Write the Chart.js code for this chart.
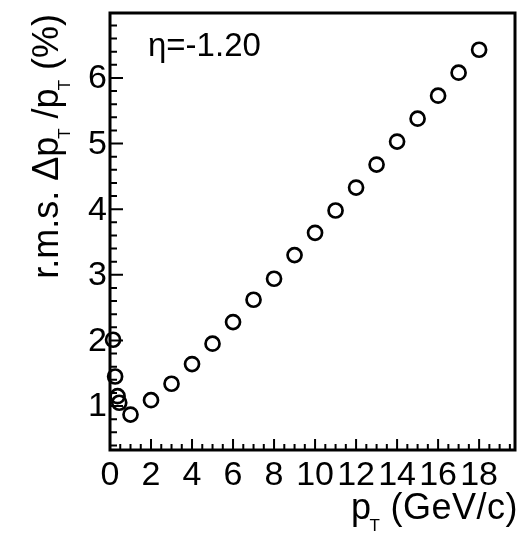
<!DOCTYPE html>
<html>
<head>
<meta charset="utf-8">
<script src="https://cdn.jsdelivr.net/npm/chart.js@4.4.1/dist/chart.umd.min.js"></script>
<style>
  html, body { margin: 0; padding: 0; background: #fff; }
  #wrap { width: 526px; height: 533px; }
</style>
</head>
<body>
<div id="wrap"><canvas id="c" width="526" height="533"></canvas></div>
<script>
  // values
  const ptValues = [0.15, 0.25, 0.37, 0.45, 1, 2, 3, 4, 5, 6, 7, 8, 9, 10, 11, 12, 13, 14, 15, 16, 17, 18];
  const rmsValues = [2.01, 1.45, 1.15, 1.05, 0.87, 1.09, 1.34, 1.64, 1.95, 2.28, 2.62, 2.94, 3.30, 3.64, 3.98, 4.33, 4.68, 5.03, 5.38, 5.73, 6.08, 6.43];
  const xTickLabels = [0, 2, 4, 6, 8, 10, 12, 14, 16, 18];
  const yTickLabels = [1, 2, 3, 4, 5, 6];
  const etaLabel = 'η=-1.20';

  const FONT = '"Liberation Sans", Arial, Helvetica, sans-serif';

  function drawRich(ctx, parts, x, y, size, subSize, spacing) {
    let cx = x;
    for (const p of parts) {
      ctx.font = `${p.sub ? subSize : size}px ${FONT}`;
      ctx.letterSpacing = p.sub ? '0px' : `${spacing}px`;
      const dy = p.sub ? 12 : 0;
      const dx = p.sub ? -2 : 0;
      ctx.fillText(p.t, cx + dx, y + dy);
      cx += ctx.measureText(p.t).width + dx;
    }
    ctx.letterSpacing = '0px';
    return cx - x;
  }

  function richWidth(ctx, parts, size, subSize, spacing) {
    let w = 0;
    for (const p of parts) {
      ctx.font = `${p.sub ? subSize : size}px ${FONT}`;
      ctx.letterSpacing = p.sub ? '0px' : `${spacing}px`;
      w += ctx.measureText(p.t).width + (p.sub ? -2 : 0);
    }
    ctx.letterSpacing = '0px';
    return w;
  }

  const rootFrame = {
    id: 'rootFrame',
    beforeDatasetsDraw(chart) {
      const { ctx, chartArea: a, scales } = chart;
      const xs = scales.x, ys = scales.y;
      ctx.save();
      ctx.strokeStyle = '#000';
      ctx.fillStyle = '#000';

      // minor/major ticks, drawn inward
      ctx.lineWidth = 2;
      ctx.beginPath();
      for (let v = 0.5; v < xs.max; v += 0.5) {
        const px = xs.getPixelForValue(v);
        const len = Math.abs(v % 2) < 1e-6 ? 11 : 6;
        ctx.moveTo(px, a.bottom);
        ctx.lineTo(px, a.bottom - len);
      }
      for (let i = 2; i * 0.2 < ys.max; i++) {
        const v = i * 0.2;
        if (v < ys.min) continue;
        const py = ys.getPixelForValue(v);
        const len = i % 5 === 0 ? 13 : 7;
        ctx.moveTo(a.left, py);
        ctx.lineTo(a.left + len, py);
      }
      ctx.stroke();

      // frame
      ctx.lineWidth = 3;
      ctx.strokeRect(a.left, a.top, a.right - a.left, a.bottom - a.top);

      // tick labels
      ctx.font = `34px ${FONT}`;
      ctx.textAlign = 'center';
      ctx.textBaseline = 'alphabetic';
      xTickLabels.forEach((v) => ctx.fillText(String(v), xs.getPixelForValue(v), 485));
      ctx.textAlign = 'right';
      ctx.textBaseline = 'middle';
      yTickLabels.forEach((v) => ctx.fillText(String(v), 107, ys.getPixelForValue(v) + 1));

      // x title
      ctx.textAlign = 'left';
      ctx.textBaseline = 'alphabetic';
      const xParts = [{ t: 'p' }, { t: 'T', sub: true }, { t: ' (GeV/c)' }];
      const xw = richWidth(ctx, xParts, 36, 17, 0.5);
      drawRich(ctx, xParts, 518 - xw, 519, 36, 17, 0.5);

      // y title, rotated
      const yParts = [{ t: 'r.m.s. Δp' }, { t: 'T', sub: true }, { t: ' /p' }, { t: 'T', sub: true }, { t: ' (%)' }];
      const yw = richWidth(ctx, yParts, 36, 17, 0);
      ctx.save();
      ctx.translate(58, 14 + yw);
      ctx.rotate(-Math.PI / 2);
      drawRich(ctx, yParts, 0, 0, 36, 17, 0);
      ctx.restore();

      // eta label
      ctx.font = `33px ${FONT}`;
      ctx.fillText(etaLabel, 148, 56);
      ctx.restore();
    }
  };

  new Chart(document.getElementById('c'), {
    type: 'scatter',
    data: {
      datasets: [{
        data: ptValues.map((x, i) => ({ x, y: rmsValues[i] })),
        pointStyle: 'circle',
        pointRadius: 7,
        pointBorderWidth: 2.7,
        pointBorderColor: '#000',
        pointBackgroundColor: 'rgba(0,0,0,0)',
        clip: false,
      }],
    },
    options: {
      responsive: false,
      animation: false,
      events: [],
      layout: { padding: { left: 110, top: 13, right: 11, bottom: 83 } },
      scales: {
        x: { type: 'linear', min: 0, max: 19.75, display: false },
        y: { type: 'linear', min: 0.33, max: 6.99, display: false },
      },
      plugins: { legend: { display: false }, tooltip: { enabled: false } },
    },
    plugins: [rootFrame],
  });
</script>
</body>
</html>
